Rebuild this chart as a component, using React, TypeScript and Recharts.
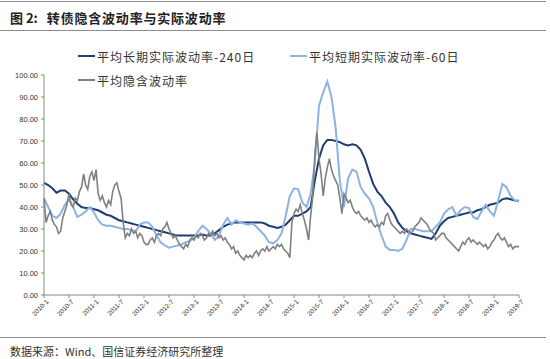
import { LineChart, Line, XAxis, YAxis } from 'recharts';

// half-year tick labels, one every 6 months from 2010-1
const xLabels = [
  '2010-1', '2010-7', '2011-1', '2011-7', '2012-1', '2012-7', '2013-1', '2013-7',
  '2014-1', '2014-7', '2015-1', '2015-7', '2016-1', '2016-7', '2017-1', '2017-7',
  '2018-1', '2018-7', '2019-1', '2019-7',
];
const yTicks = [0, 10, 20, 30, 40, 50, 60, 70, 80, 90, 100];

// 平均长期实际波动率-240日, monthly from 2010-1
const longVol = [
  51, 50, 48.5, 46.5, 47.5, 47.5, 46, 43.5, 41.5, 40, 39.5, 39.5,
  39, 38.5, 37.5, 36.5, 36, 35, 34, 33.5, 33, 32.5, 32, 31.5,
  31, 30.5, 30, 29.5, 29, 28.5, 28, 27.5, 27, 27, 27, 27,
  27, 27, 27.5, 27, 27, 28, 29.5, 31, 32, 32.5, 33, 33,
  33, 33, 33, 33, 33, 32.5, 31.5, 31, 30.5, 31, 32, 34,
  36, 36, 37, 38, 40, 52, 62, 68, 70.5, 70.5, 70, 69.5,
  68.5, 68, 68.5, 68, 66, 62, 56, 50.5, 47, 45, 42, 40,
  37, 33, 30.5, 29, 28, 27.5, 27, 26.5, 26, 25.5, 28, 31.5,
  33.5, 35, 35.5, 36, 36.5, 37, 37.5, 37.5, 38.5, 39, 40, 41,
  41.5, 42, 43.5, 44, 43.5, 43, 42.8,
];

// 平均短期实际波动率-60日, monthly from 2010-1
const shortVol = [
  44, 40, 36, 35, 37, 41, 43.5, 40, 35.5, 36.5, 38, 40,
  37.5, 34, 32, 31.5, 31.5, 31, 30.5, 30, 30, 29.5, 29, 32,
  33, 33, 31, 27, 24, 22.5, 21.5, 22, 22.5, 23, 24, 24.5,
  26, 29, 31.5, 30, 28, 25, 27, 32, 35, 32, 34, 33,
  32.5, 32, 32.5, 31, 29, 27, 24, 23.5, 25, 28, 36, 45,
  48.5, 48, 42, 40, 46, 60, 86, 92, 97, 90, 76, 52,
  40, 53, 57, 56, 49, 46, 44, 40, 33, 27, 22, 20.5,
  20.5, 20, 21, 25, 30, 30, 29.5, 29, 29, 29, 31, 33,
  37, 39, 40, 36, 38.5, 40, 39.5, 35.5, 34.5, 38, 41, 38,
  36, 43, 50.5, 49, 45, 43, 42.5,
];

// 平均隐含波动率, half-monthly from 2010-1
const impliedVol = [
  44, 33, 36, 38, 34, 32, 31, 28, 29, 35,
  38, 41, 46, 41, 40, 44, 43, 47, 49, 55,
  50, 48, 54, 56, 52, 57, 46, 43, 45, 42,
  40, 43, 41, 47, 50, 51, 47, 44, 33, 26,
  28, 27, 30, 28, 29, 26, 28, 27, 24, 23,
  23, 25, 26, 24, 27, 28, 27, 30, 31, 33,
  30, 28, 26, 27, 25, 23, 22, 21, 23, 22,
  25, 26, 25, 27, 26, 28, 27, 25, 26, 28,
  27, 29, 27, 28, 26, 27, 25, 26, 24, 23,
  21, 22, 19, 20, 18, 17, 16, 18, 17, 18,
  17, 19, 20, 18, 20, 21, 20, 22, 20, 21,
  22, 21, 23, 22, 23, 21, 20, 19, 17, 33,
  37, 39, 38, 41, 37, 34, 30, 25, 36, 45,
  64, 74, 62, 55, 45, 53, 58, 62, 57, 54,
  52, 50, 44, 37, 46, 44, 42, 43, 40, 38,
  37, 38, 36, 35, 34, 35, 33, 34, 32, 31,
  32, 31, 33, 32, 36, 37, 34, 32, 31, 30,
  29, 28, 29, 28, 30, 29, 28, 29, 31, 32,
  33, 35, 34, 33, 32, 30, 29, 28, 25, 26,
  27, 28, 28, 26, 25, 24, 23, 22, 21, 20,
  22, 24, 23, 25, 26, 24, 25, 24, 23, 24,
  23, 22, 23, 21, 22, 24, 25, 27, 28, 26,
  25, 26, 24, 22, 23, 21, 22, 22, 22,
];

const DARK = '#1f3d6e';
const LIGHT = '#8db3e2';
const GRAY = '#808080';
const CJK = '"Noto Sans CJK SC", "Noto Sans", sans-serif';

const chartData = impliedVol.map((g, h) => ({
  t: h / 2,
  implied: g,
  long: h % 2 === 0 ? longVol[h / 2] : undefined,
  short: h % 2 === 0 ? shortVol[h / 2] : undefined,
}));

const xTicks = xLabels.map((_, i) => i * 6);

function DateTick(props: any) {
  const { x, y, payload } = props;
  return (
    <g transform={`translate(${x},${y})`}>
      <text
        x={0}
        y={0}
        dy={5}
        dx={2}
        textAnchor="end"
        transform="rotate(-45)"
        fontSize={6.5}
        fill="#333"
        fontFamily="Liberation Sans, Arial, sans-serif"
      >
        {xLabels[Math.round(payload.value / 6)]}
      </text>
    </g>
  );
}

function LegendItem({ color, label, left, top }: { color: string; label: string; left: number; top: number }) {
  return (
    <div style={{ position: 'absolute', left, top, display: 'flex', alignItems: 'center', height: 16 }}>
      <span style={{ display: 'inline-block', width: 17, height: 2.5, background: color, marginRight: 2 }} />
      <span style={{ fontFamily: CJK, fontSize: 12, letterSpacing: 1, color: '#333', whiteSpace: 'nowrap' }}>{label}</span>
    </div>
  );
}

const rule = (top: number) => (
  <div style={{ position: 'absolute', left: 0, top, width: 546, borderTop: '1.5px solid #8c8c8c' }} />
);

export default function App() {
  return (
    <div style={{ position: 'absolute', left: 0, top: 0, width: 550, height: 359, background: '#fff', overflow: 'hidden' }}>
      {rule(1)}
      <div
        style={{
          position: 'absolute',
          left: 10,
          top: 8,
          fontFamily: CJK,
          fontWeight: 'bold',
          fontSize: 13,
          lineHeight: '19px',
          color: '#222',
          whiteSpace: 'nowrap',
        }}
      >
        <span>图 2:</span>
        <span style={{ marginLeft: 9, letterSpacing: 0.8 }}>转债隐含波动率与实际波动率</span>
      </div>
      {rule(30)}

      <LineChart
        width={550}
        height={359}
        data={chartData}
        margin={{ top: 75, right: 31, bottom: 34, left: 4 }}
      >
        <XAxis
          dataKey="t"
          type="number"
          domain={[0, 114]}
          ticks={xTicks}
          interval={0}
          tick={<DateTick />}
          tickSize={3}
          height={30}
          axisLine={{ stroke: '#888' }}
          tickLine={{ stroke: '#888' }}
        />
        <YAxis
          domain={[0, 100]}
          ticks={yTicks}
          interval={0}
          width={40}
          tickFormatter={(v: number) => v.toFixed(2)}
          tick={{ fontSize: 7.5, fill: '#333', fontFamily: 'Liberation Sans, Arial, sans-serif' }}
          tickSize={3}
          tickMargin={3}
          axisLine={{ stroke: '#888' }}
          tickLine={{ stroke: '#888' }}
        />
        <Line
          type="linear"
          dataKey="long"
          stroke={DARK}
          strokeWidth={2}
          dot={false}
          connectNulls
          isAnimationActive={false}
        />
        <Line
          type="linear"
          dataKey="short"
          stroke={LIGHT}
          strokeWidth={2}
          dot={false}
          connectNulls
          isAnimationActive={false}
        />
        <Line
          type="linear"
          dataKey="implied"
          stroke={GRAY}
          strokeWidth={1.6}
          dot={false}
          isAnimationActive={false}
        />
      </LineChart>

      <LegendItem color={DARK} label="平均长期实际波动率-240日" left={78} top={48} />
      <LegendItem color={LIGHT} label="平均短期实际波动率-60日" left={290} top={48} />
      <LegendItem color={GRAY} label="平均隐含波动率" left={78} top={72} />

      {rule(337)}
      <div
        style={{
          position: 'absolute',
          left: 10,
          top: 343,
          fontFamily: CJK,
          fontSize: 11,
          lineHeight: '16px',
          color: '#333',
          whiteSpace: 'nowrap',
        }}
      >
        数据来源：Wind、国信证券经济研究所整理
      </div>
    </div>
  );
}
